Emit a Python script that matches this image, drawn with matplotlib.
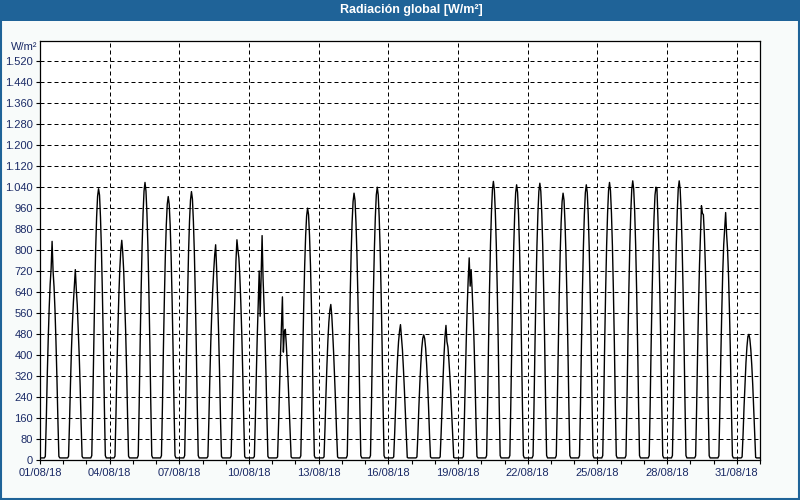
import numpy as np
import pandas as pd
import matplotlib
matplotlib.use('Agg')
import matplotlib.pyplot as plt
import matplotlib.dates as mdates
import matplotlib.patches as patches
from matplotlib.ticker import FuncFormatter

# hourly values (W/m2) from 05:30 to 19:30 for every day of August 2018
d01 = [12, 150, 320, 460, 580, 670, 730, 833, 720, 660, 570, 450, 310, 150, 12]
d02 = [12, 140, 290, 420, 520, 600, 660, 725, 650, 590, 500, 400, 280, 135, 12]
d03 = [15, 205, 430, 630, 800, 925, 1005, 1034, 1010, 925, 800, 630, 430, 205, 15]
d04 = [13, 170, 350, 500, 630, 730, 800, 837, 790, 720, 610, 490, 340, 165, 13]
d05 = [15, 210, 445, 645, 815, 940, 1025, 1058, 1025, 940, 815, 645, 445, 210, 15]
d06 = [15, 200, 420, 610, 775, 895, 975, 1004, 975, 895, 775, 610, 420, 200, 15]
d07 = [15, 205, 430, 625, 790, 910, 990, 1023, 995, 910, 790, 625, 430, 205, 15]
d08 = [12, 150, 310, 450, 560, 650, 720, 780, 820, 730, 620, 490, 340, 160, 12]
d09 = [13, 170, 350, 510, 640, 760, 839, 800, 770, 700, 600, 480, 330, 160, 12]
d10 = [12, 150, 320, 470, 600, 720, 547, 700, 855, 690, 590, 470, 330, 160, 12]
d11 = [10, 130, 270, 400, 510, 621, 410, 490, 497, 440, 370, 290, 200, 100, 10]
d12 = [14, 190, 400, 585, 740, 855, 930, 960, 935, 855, 740, 585, 400, 190, 14]
d13 = [10, 120, 250, 360, 455, 525, 570, 592, 550, 480, 400, 310, 210, 100, 10]
d14 = [15, 205, 425, 620, 785, 905, 985, 1017, 990, 905, 785, 620, 425, 205, 15]
d15 = [15, 208, 435, 635, 800, 925, 1010, 1040, 1010, 925, 800, 635, 435, 208, 15]
d16 = [10, 100, 210, 310, 390, 450, 490, 515, 470, 420, 350, 270, 180, 90, 8]
d17 = [10, 95, 200, 290, 365, 425, 462, 476, 462, 425, 365, 290, 200, 95, 10]
d18 = [10, 100, 210, 310, 400, 470, 512, 450, 430, 380, 320, 250, 170, 85, 8]
d19 = [12, 150, 310, 460, 590, 690, 770, 662, 725, 650, 560, 450, 310, 150, 12]
d20 = [15, 212, 445, 650, 820, 945, 1030, 1062, 1030, 945, 820, 650, 445, 212, 15]
d21 = [15, 210, 440, 642, 810, 935, 1018, 1049, 1020, 935, 810, 642, 440, 210, 15]
d22 = [15, 211, 443, 646, 815, 940, 1024, 1055, 1024, 940, 815, 646, 443, 211, 15]
d23 = [15, 205, 425, 620, 785, 905, 985, 1017, 990, 905, 785, 620, 425, 205, 15]
d24 = [15, 210, 440, 642, 810, 935, 1018, 1049, 1020, 935, 810, 642, 440, 210, 15]
d25 = [15, 212, 445, 646, 815, 940, 1026, 1058, 1026, 940, 815, 646, 445, 212, 15]
d26 = [15, 213, 447, 650, 820, 947, 1032, 1064, 1032, 947, 820, 650, 447, 213, 15]
d27 = [15, 208, 435, 635, 800, 925, 1010, 1040, 1035, 925, 800, 635, 435, 208, 15]
d28 = [15, 213, 447, 650, 820, 947, 1032, 1064, 1032, 947, 820, 650, 447, 213, 15]
d29 = [14, 194, 405, 590, 745, 860, 969, 940, 935, 860, 745, 590, 405, 194, 14]
d30 = [14, 185, 390, 565, 715, 820, 880, 943, 860, 800, 700, 560, 390, 185, 14]
d31 = [10, 95, 200, 290, 370, 430, 470, 478, 460, 420, 360, 285, 195, 95, 8]

night_level = 6          # W/m2, flat line between sunset and sunrise
first_day_hour = 5       # index of 05:30 in the hourly list

days = [d01, d02, d03, d04, d05, d06, d07, d08, d09, d10, d11, d12, d13, d14, d15, d16,
        d17, d18, d19, d20, d21, d22, d23, d24, d25, d26, d27, d28, d29, d30, d31]

y_ticks = list(range(0, 1600, 80))

# build the hourly series
values = []
for day in days:
    hours = [night_level] * 24
    hours[first_day_hour:first_day_hour + len(day)] = day
    values.extend(hours)
times = pd.date_range('2018-08-01 00:30', periods=len(values), freq='h')
series = pd.Series(values, index=times)

blue = '#1f6398'
text_col = '#1a2a66'
plt.rcParams['font.family'] = ['Liberation Sans', 'DejaVu Sans']

fig = plt.figure(figsize=(8, 5), dpi=100, facecolor='#f8fbfa')
ax = fig.add_axes([40 / 800, 1 - 459.5 / 500, 720 / 800, 419 / 500])
ax.set_facecolor('white')

ax.plot(series.index, series.values, color='black', lw=1.0)

ax.set_xlim(pd.Timestamp('2018-08-01'), pd.Timestamp('2018-09-01'))
ax.set_ylim(0, 1600)

major = pd.date_range('2018-08-01', periods=11, freq='3D')
ax.set_xticks(major)
ax.xaxis.set_minor_locator(mdates.DayLocator())
ax.xaxis.set_major_formatter(mdates.DateFormatter('%d/%m/%y'))
ax.set_yticks(y_ticks)
ax.yaxis.set_major_formatter(FuncFormatter(lambda v, p: f'{int(v):,}'.replace(',', '.')))

ax.grid(True, which='major', color='black', lw=0.72, linestyle=(0, (4, 3)))
ax.tick_params(axis='both', which='both', direction='out', length=3, width=0.8,
               colors='black', labelcolor=text_col, labelsize=8)
ax.tick_params(axis='x', pad=3)
ax.tick_params(axis='y', pad=2)
for s in ax.spines.values():
    s.set_color('black')
    s.set_linewidth(0.9)

# title bar, unit label and window border
fig.patches.append(patches.Rectangle((0, 1 - 21 / 500), 1, 21 / 500, transform=fig.transFigure,
                                     facecolor=blue, edgecolor='none', zorder=0))
fig.text(411 / 800, 1 - 10.5 / 500, 'Radiación global [W/m²]', color='white', fontsize=9,
         fontweight='bold', ha='center', va='center')
fig.text(37 / 800, 1 - 46.5 / 500, 'W/m²', color=text_col, fontsize=8, ha='right', va='center')
fig.patches.append(patches.Rectangle((0.001, 0.002), 0.998, 0.996, transform=fig.transFigure,
                                     facecolor='none', edgecolor=blue, lw=1.5, zorder=5))

fig.savefig('out.png', dpi=100, facecolor=fig.get_facecolor())
